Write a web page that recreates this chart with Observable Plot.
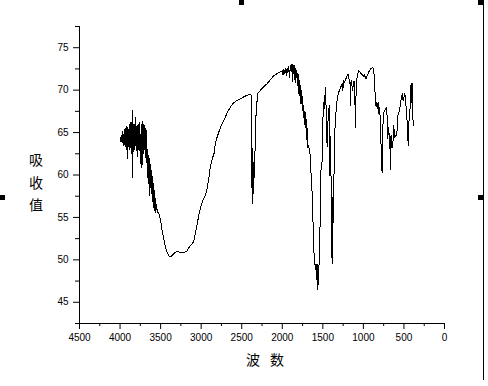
<!DOCTYPE html>
<html><head><meta charset="utf-8">
<script src="https://cdn.jsdelivr.net/npm/d3@7"></script>
<script src="https://cdn.jsdelivr.net/npm/@observablehq/plot@0.6"></script>
<style>
html,body{margin:0;padding:0;background:#fff;}
#wrap{position:relative;width:488px;height:386px;overflow:hidden;background:#fff;}
.h{position:absolute;width:5px;height:5px;background:#000;}
.vline{position:absolute;left:483px;top:0;width:1px;height:380px;background:#000;}
</style></head><body><div id="wrap"></div>
<script>
const wavenumber = [
4000,3995,3990,3985,3980,3975,3970,3965,3960,3955,3950,3945,3940,3935,3930,3925,3920,3915,3910,3905,3900,3895,3890,3885,3880,3875,3870,3865,3860,3855,3850,3845,3840,3835,3830,3825,3820,3815,3810,3805,3800,3795,3790,3785,3780,3775,3770,3765,3760,3755,3750,3745,3740,3735,3730,3725,3720,3715,3710,3705,
3700,3695,3690,3685,3680,3675,3670,3665,3660,3655,3650,3645,3640,3635,3630,3625,3620,3615,3610,3605,3600,3595,3590,3585,3580,3575,3570,3560,3550,3540,3525,
3500,3480,3460,3440,3420,3400,3380,3360,3340,3320,3296,3270,3240,3214,3181,3160,3132,3110,3091,3070,3050,3030,3010,2988,2965,2947,2935,2918,2900,2885,2860,2836,2826,2805,2785,2755,2723,2680,2641,2600,2558,2515,2476,2433,2400,2385,
2378,2371,2365,2363,2357,2351,2345,2339,2330,2322,2302,2269,2230,2187,2150,2105,2070,2043,2010,
2000,1990,1980,1970,1960,1950,1940,1930,1920,1910,1900,1890,1880,1870,1865,1860,1855,1850,1845,1840,1835,1830,1820,1810,1800,1795,1790,1780,1775,1770,1760,1755,1750,1740,1735,1725,1720,1714,1708,1700,1693,1685,1673,1665,1660,1652,1640,1631,1625,1619,1610,1603,1595,1590,1584,1578,1574,1570,1565,1562,1555,1549,1543,1537,1533,1528,1522,1516,1510,1505,1500,1495,1487,1480,1475,1467,1460,1454,1448,1446,1440,1434,1426,1418,1415,1410,1405,1400,1397,1391,1386,1382,1378,1372,1368,1360,1356,1348,1344,1335,1323,1303,1290,1282,1270,1262,1254,1248,1242,1230,1221,1210,1200,1187,1180,1171,1165,1159,1153,1147,1140,1130,1124,1118,1110,1097,1092,1085,1070,1057,1040,1025,1015,1000,990,974,965,953,940,925,912,898,884,875,871,863,859,851,842,835,830,825,818,814,810,804,798,794,789,783,777,772,768,763,760,754,748,737,727,715,705,699,692,686,680,674,670,666,660,654,648,641,633,625,619,613,602,592,585,575,563,551,543,534,526,518,510,501,495,489,483,477,468,460,454,448,442,435,427,421,415,411,407,403,398,394,390,386
];
const absorbance = [
64.3,64.0,64.4,64.7,64.2,63.8,64.6,65.1,63.9,63.5,65.0,65.4,63.6,63.3,65.3,65.7,63.2,63.0,65.6,61.9,64.8,63.4,65.4,65.9,63.0,63.4,65.8,66.2,62.5,63.0,67.6,59.7,64.8,65.9,62.8,63.2,66.0,65.6,63.5,66.8,64.0,65.4,62.2,63.1,65.9,66.0,63.0,62.9,66.2,65.2,61.3,63.4,65.5,65.9,60.9,62.8,66.3,65.9,62.5,63.2,
65.8,63.0,65.5,62.0,65.3,61.5,64.0,60.9,63.0,59.5,62.3,59.0,62.0,57.6,61.3,58.5,60.8,57.8,60.5,57.0,59.8,56.8,59.0,56.2,58.2,55.8,57.5,55.6,56.5,55.6,55.6,
54.6,53.4,52.4,51.5,50.9,50.5,50.35,50.5,50.7,50.9,51.0,50.9,50.85,50.9,50.95,51.3,51.7,51.9,52.2,53.2,54.2,55.2,56.1,56.8,57.3,57.6,58.0,58.9,60.0,61.1,62.0,62.7,63.7,64.4,65.0,65.8,66.4,67.3,68.0,68.5,68.8,69.0,69.2,69.4,69.5,69.4,
63.0,56.6,61.0,63.1,59.0,57.8,62.0,61.7,65.0,67.6,69.6,70.0,70.4,70.75,71.2,71.7,71.9,72.1,72.2,
72.3,71.8,72.4,72.0,72.5,71.7,72.6,72.1,72.8,71.5,72.9,72.2,73.1,71.0,72.8,72.3,73.0,71.3,72.7,70.9,72.5,71.5,72.3,70.5,71.8,69.6,71.2,69.0,70.6,68.4,70.0,67.6,69.2,66.8,68.2,66.0,67.5,65.6,66.8,64.2,65.5,63.2,63.5,62.5,63.0,61.1,59.5,57.6,55.6,53.8,51.0,49.7,49.3,48.9,49.5,47.7,49.3,48.5,49.4,46.5,48.0,48.9,50.5,52.4,55.0,58.35,60.8,61.1,61.5,64.0,66.2,67.5,68.6,67.8,69.2,70.35,68.0,68.2,63.3,64.25,66.0,66.6,67.8,68.2,59.9,64.5,63.1,60.5,58.35,53.0,49.5,52.0,57.4,54.4,58.9,60.5,62.3,66.5,66.8,67.6,69.0,69.8,70.0,70.35,70.5,70.75,69.96,70.6,71.1,70.9,71.3,71.4,71.7,71.9,71.5,70.75,71.0,68.2,70.5,71.1,70.5,70.0,71.0,70.75,71.0,65.6,69.0,71.1,71.9,72.3,72.1,71.9,71.9,71.6,71.8,71.5,71.3,71.7,72.0,72.3,72.5,72.6,72.7,72.5,72.3,70.55,70.35,68.4,68.0,68.6,67.8,68.3,68.6,67.4,67.2,67.9,68.0,66.8,66.4,63.8,60.5,62.0,60.3,63.5,65.6,66.8,67.4,67.6,67.8,68.0,66.5,64.25,65.6,65.4,64.0,63.1,64.5,60.7,63.5,64.6,63.2,63.5,64.2,65.8,64.9,64.4,64.6,64.6,65.2,67.0,67.3,67.8,68.4,69.0,69.4,69.6,68.7,69.0,69.5,69.6,69.0,68.4,67.3,66.2,65.2,63.5,65.8,66.6,67.4,68.8,70.55,69.5,68.6,70.8,70.75,68.0,67.0,65.8
];
const yTicks = [45, 50, 55, 60, 65, 70, 75];
const yMinor = [42.5, 47.5, 52.5, 57.5, 62.5, 67.5, 72.5, 77.5];
const xTicks = [4500, 4000, 3500, 3000, 2500, 2000, 1500, 1000, 500, 0];
const xMinor = [4250, 3750, 3250, 2750, 2250, 1750, 1250, 750, 250];
const yLabel = "吸收值";
const xLabel = "波数";

const data = wavenumber.map((w, i) => ({w, a: absorbance[i]}));

const chart = Plot.plot({
  width: 488, height: 386,
  marginLeft: 79, marginRight: 44, marginTop: 26, marginBottom: 63,
  style: {fontFamily: "'Liberation Sans', Arial, sans-serif", fontSize: "10px", background: "#fff", color: "#000", overflow: "visible"},
  x: {domain: [4500, 0], label: null},
  y: {domain: [42.5, 77.5], label: null},
  marks: [
    Plot.axisY({ticks: yTicks, tickSize: 6, tickPadding: 5, tickFormat: d => String(d), label: null, stroke: "#000"}),
    Plot.axisY({ticks: yMinor, tickSize: 4, tickFormat: () => "", label: null, stroke: "#000"}),
    Plot.axisX({ticks: xTicks, tickSize: 6, tickPadding: 4, tickFormat: d => String(d), label: null, stroke: "#000"}),
    Plot.axisX({ticks: xMinor, tickSize: 3, tickFormat: () => "", label: null, stroke: "#000"}),
    Plot.ruleX([4500], {stroke: "#000"}),
    Plot.ruleY([42.5], {stroke: "#000"}),
    Plot.line(data, {x: "w", y: "a", stroke: "#000", strokeWidth: 1, shapeRendering: "crispEdges"})
  ]
});

const svg = d3.select(chart);
Array.from(yLabel).forEach((c, i) => {
  svg.append("text").attr("x", 36).attr("y", 159 + i * 22.5)
    .attr("text-anchor", "middle").attr("dominant-baseline", "central")
    .attr("font-family", "'Noto Sans CJK SC', sans-serif").attr("font-size", 14).attr("fill", "#000")
    .text(c);
});
Array.from(xLabel).forEach((c, i) => {
  svg.append("text").attr("x", 253 + i * 24).attr("y", 358.5)
    .attr("text-anchor", "middle").attr("dominant-baseline", "central")
    .attr("font-family", "'Noto Sans CJK SC', sans-serif").attr("font-size", 14).attr("fill", "#000")
    .text(c);
});

const wrap = document.getElementById("wrap");
wrap.appendChild(chart);
[[239,0],[478,0],[0,195],[478,195]].forEach(([l,t]) => {
  const d = document.createElement("div"); d.className = "h";
  d.style.left = l + "px"; d.style.top = t + "px"; wrap.appendChild(d);
});
const v = document.createElement("div"); v.className = "vline"; wrap.appendChild(v);
</script></body></html>
